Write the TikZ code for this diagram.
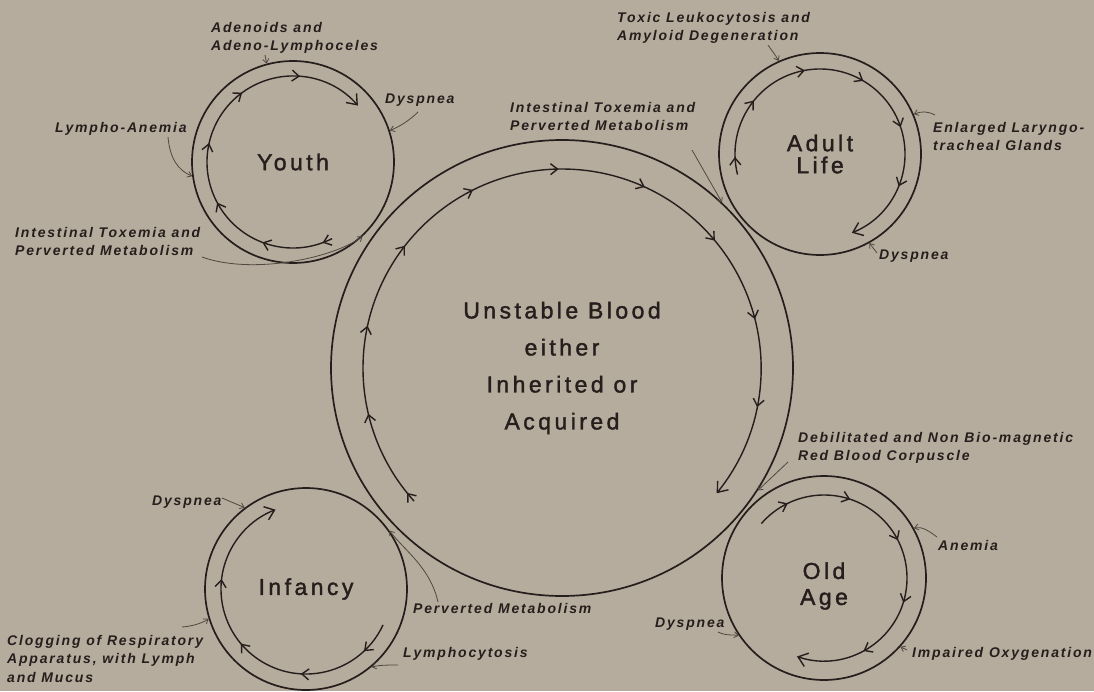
\documentclass[tikz,border=0pt]{standalone}
\usepackage{fontspec}
\setmainfont{Liberation Sans}
\newfontfamily\lblfont[LetterSpace=13]{Liberation Sans}
\newfontfamily\ttlfont[LetterSpace=15,FakeBold=1.6]{Liberation Sans}
\usetikzlibrary{arrows.meta,decorations.markings,shapes.geometric,calc}
\definecolor{bg}{RGB}{181,172,157}
\definecolor{ink}{RGB}{38,30,28}
\definecolor{ptrc}{RGB}{80,72,64}
\tikzset{mk/.tip={Straight Barb[length=7pt,width=11pt]}}
\begin{document}
\begin{tikzpicture}[x=1pt,y=-1pt,
  lbl/.style={font=\lblfont\bfseries\itshape\fontsize{14}{18.5}\selectfont, text=ink, inner sep=0pt, anchor=base west, align=left},
  ring/.style={circle, draw=ink, line width=1.7pt, inner sep=0pt, minimum size=#1, text=ink, align=center},
  ttl/.style={font=\ttlfont\fontsize{23}{#1}\selectfont},
  flow/.style={draw=ink, line width=1.4pt, -{Straight Barb[length=9pt,width=14pt]}},
  marks/.style n args={3}{postaction={decorate}, decoration={markings, mark=between positions #1 and #2 step #3 with {\arrow{mk}}}},
  ptr/.style={draw=ptrc, line width=0.8pt, -{Straight Barb[length=4pt,width=6pt]}}]
\fill[bg] (0,0) rectangle (1094,691);
\useasboundingbox (0,0) rectangle (1094,691);

% circles
\node[ring=202pt, ttl=22pt] (youth) at (293,162) {Youth};
\node[ring=202pt, ttl=22pt] (adult) at (820,154) {Adult\\Life};
\node[ring=204pt] (oldage) at (824,578) {};
\node[ttl=26pt, text=ink, align=center, inner sep=0pt] (oldtitle) at (824,586) {Old\\Age};
\node[ring=202pt, ttl=22pt] (infancy) at (306,589) {Infancy};
\node[ellipse, draw=ink, line width=1.7pt, inner sep=0pt, minimum width=462pt, minimum height=456pt, text=ink, align=center, ttl=37pt] (blood) at (562,368) {Unstable Blood\\either\\Inherited or\\Acquired};

% inner flow arcs
\draw[flow, marks={0.012}{0.9}{0.098}] ($(blood.center)+(-222:199)$) arc[start angle=-222, end angle=39, radius=199];
\draw[flow, marks={0.027}{0.85}{0.16}] ($(youth.center)+(-297:86)$) arc[start angle=-297, end angle=-41, radius=86];
\draw[flow, marks={0.046}{0.85}{0.156}] ($(adult.center)+(-194:85)$) arc[start angle=-194, end angle=68, radius=85];
\draw[flow, marks={0.093}{0.82}{0.179}] ($(oldage.center)+(-139:83)$) arc[start angle=-139, end angle=109, radius=83];
\draw[flow, marks={0.098}{0.75}{0.208}] ($(infancy.center)+(25:85)$) arc[start angle=25, end angle=249, radius=85];

% labels (anchor = baseline of the last line)
\node[lbl] (adenoids) at (211,50.5) {Adenoids and\\Adeno-Lymphoceles};
\node[lbl] (lympho) at (55,132) {Lympho-Anemia};
\node[lbl] (ydysp) at (385,103) {Dyspnea};
\node[lbl] (intl) at (15,255.5) {Intestinal Toxemia and\\Perverted Metabolism};
\node[lbl] (intr) at (510,130.5) {Intestinal Toxemia and\\Perverted Metabolism};
\node[lbl] (toxic) at (617,40.5) {Toxic Leukocytosis and\\Amyloid Degeneration};
\node[lbl] (enlarged) at (933,150.5) {Enlarged Laryngo-\\tracheal Glands};
\node[lbl] (adysp) at (879,259) {Dyspnea};
\node[lbl] (debil) at (798,460.5) {Debilitated and Non Bio-magnetic\\Red Blood Corpuscle};
\node[lbl] (anemia) at (938,550) {Anemia};
\node[lbl] (impaired) at (912,657) {Impaired Oxygenation};
\node[lbl] (odysp) at (655,627) {Dyspnea};
\node[lbl] (perv) at (413,613) {Perverted Metabolism};
\node[lbl] (lymphocyt) at (403,657) {Lymphocytosis};
\node[lbl] (idysp) at (152,505) {Dyspnea};
\node[lbl] (clog) at (7,682) {Clogging of Respiratory\\Apparatus, with Lymph\\and Mucus};

% pointer start points
\coordinate (p1) at (265,55);
\coordinate (p2) at (168,137);
\coordinate (p3) at (418,112);
\coordinate (p4) at (202,257);
\coordinate (p5) at (692,150);
\coordinate (p6) at (768,45);
\coordinate (p7) at (935,115);
\coordinate (p8) at (877,253);
\coordinate (p9) at (788,462);
\coordinate (p10) at (937,537);
\coordinate (p11) at (907,650);
\coordinate (p12) at (718,632);
\coordinate (p13) at (438,602);
\coordinate (p14) at (398,665);
\coordinate (p15) at (222,498);
\coordinate (p16) at (182,627);

% pointers
\draw[ptr] (p1) -- (youth.105);
\draw[ptr] (p2) .. controls +(2,22) and +(-14,-6) .. (youth.188);
\draw[ptr] (p3) .. controls +(-8,8) and +(10,-4) .. (youth.18);
\draw[ptr] (p4) .. controls +(50,18) and +(-30,22) .. (youth.-47);
\draw[ptr] (p5) -- (blood.46);
\draw[ptr] (p6) .. controls +(4,6) and +(-3,-6) .. (adult.114);
\draw[ptr] (p7) .. controls +(-8,-4) and +(8,-3) .. (adult.23);
\draw[ptr] (p8) -- (adult.-61);
\draw[ptr] (p9) -- (blood.-32);
\draw[ptr] (p10) .. controls +(-8,-6) and +(8,-2) .. (oldage.29);
\draw[ptr] (p11) -- (oldage.-42);
\draw[ptr] (p12) .. controls +(8,4) and +(-6,-1) .. (oldage.214);
\draw[ptr] (p13) .. controls +(-8,-35) and +(15,20) .. (infancy.35);
\draw[ptr] (p14) .. controls +(-10,0) and +(8,-2) .. (infancy.-50);
\draw[ptr] (p15) -- (infancy.127);
\draw[ptr] (p16) .. controls +(12,-1) and +(-6,4) .. (infancy.197);
\end{tikzpicture}
\end{document}
